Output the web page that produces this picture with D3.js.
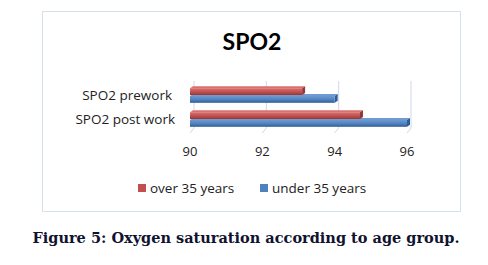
<!DOCTYPE html>
<html lang="en">
<head>
  <meta charset="UTF-8">
  <title>SPO2</title>
  <script src="https://d3js.org/d3.v7.min.js"></script>
  <style>
    body { margin: 0; background: #fff; }
    svg { display: block; }
  </style>
</head>
<body>
  <div id="chart"></div>
  <script>
    // data
    const categories = ["SPO2 prework", "SPO2 post work"];
    const seriesNames = ["over 35 years", "under 35 years"];
    const over35 = [93.1, 94.7];
    const under35 = [94.0, 96.0];
    const tickValues = [90, 92, 94, 96];

    const colors = { "over 35 years": "#c0504d", "under 35 years": "#4f81bd" };
    const light = { "over 35 years": "#d9716e", "under 35 years": "#6f9ad2" };
    const dark = { "over 35 years": "#953735", "under 35 years": "#2f5d93" };

    const W = 488, H = 265;
    const font = "'Open Sans', Lato, sans-serif";
    const svg = d3.select("#chart").append("svg").attr("width", W).attr("height", H);

    // chart area frame
    svg.append("rect")
      .attr("x", 42.5).attr("y", 11.5).attr("width", 418).attr("height", 200)
      .attr("fill", "#fff").attr("stroke", "#d6dfec").attr("stroke-width", 1);

    svg.append("text")
      .attr("x", 252).attr("y", 50)
      .attr("text-anchor", "middle")
      .attr("font-family", "Lato, 'Open Sans', sans-serif")
      .attr("font-weight", "bold").attr("font-size", 23)
      .attr("fill", "#000").text("SPO2");

    const x = d3.scaleLinear().domain([90, 96]).range([190, 407]);
    const y = d3.scaleBand().domain(categories).range([83, 131])
      .paddingInner(0.35).paddingOuter(0.175);
    const ySub = d3.scaleBand().domain(seriesNames).range([0, y.bandwidth()]);

    // gridlines with slanted floor
    const grid = svg.append("g");
    tickValues.forEach(v => {
      grid.append("path")
        .attr("d", `M${x(v) + 4},81 L${x(v) + 4},128 L${x(v)},133`)
        .attr("fill", "none").attr("stroke", "#cdd8ea").attr("stroke-width", 1);
    });

    // tick labels
    svg.append("g").selectAll("text").data(tickValues).enter().append("text")
      .attr("x", d => x(d)).attr("y", 156)
      .attr("text-anchor", "middle")
      .attr("font-family", font).attr("font-size", 13)
      .attr("fill", "#222").text(d => d);

    // category labels
    svg.append("g").selectAll("text").data(categories).enter().append("text")
      .attr("x", (d, i) => i === 0 ? 172 : 175)
      .attr("y", d => y(d) + y.bandwidth() / 2 + 4.5)
      .attr("text-anchor", "end")
      .attr("font-family", font).attr("font-size", 13.5)
      .attr("fill", "#222").text(d => d);

    // gradients for the 3D look
    const defs = svg.append("defs");
    seriesNames.forEach((s, i) => {
      const g = defs.append("linearGradient").attr("id", "grad" + i)
        .attr("x1", 0).attr("y1", 0).attr("x2", 0).attr("y2", 1);
      g.append("stop").attr("offset", "0%").attr("stop-color", light[s]);
      g.append("stop").attr("offset", "55%").attr("stop-color", colors[s]);
      g.append("stop").attr("offset", "100%").attr("stop-color", dark[s]);
    });

    const rows = [];
    categories.forEach((c, i) => {
      rows.push({ cat: c, s: seriesNames[0], v: over35[i], k: 0 });
      rows.push({ cat: c, s: seriesNames[1], v: under35[i], k: 1 });
    });
    // draw lower bars first so the top face of the upper one sits above
    rows.sort((a, b) => (y(b.cat) + ySub(b.s)) - (y(a.cat) + ySub(a.s)));

    const d = 3;
    const bars = svg.append("g");
    rows.forEach(r => {
      const x0 = x(90), x1 = x(r.v);
      const y0 = y(r.cat) + ySub(r.s) + 1, h = ySub.bandwidth() - 1;
      // top face
      bars.append("path")
        .attr("d", `M${x0},${y0} L${x0 + d},${y0 - d + 1} L${x1 + d},${y0 - d + 1} L${x1},${y0} Z`)
        .attr("fill", light[r.s]);
      // side face
      bars.append("path")
        .attr("d", `M${x1},${y0} L${x1 + d},${y0 - d + 1} L${x1 + d},${y0 + h - d + 1} L${x1},${y0 + h} Z`)
        .attr("fill", dark[r.s]);
      // front face
      bars.append("rect")
        .attr("x", x0).attr("y", y0).attr("width", x1 - x0).attr("height", h)
        .attr("fill", `url(#grad${r.k})`);
    });

    // legend
    const legendX = [138, 260];
    const legend = svg.append("g");
    seriesNames.forEach((s, i) => {
      legend.append("rect")
        .attr("x", legendX[i]).attr("y", 184).attr("width", 8).attr("height", 8)
        .attr("fill", colors[s]);
      legend.append("text")
        .attr("x", legendX[i] + 12).attr("y", 192.5)
        .attr("font-family", font).attr("font-size", 13.5)
        .attr("fill", "#222").text(s);
    });

    // caption
    svg.append("text")
      .attr("x", 246).attr("y", 243)
      .attr("text-anchor", "middle")
      .attr("font-family", "'DejaVu Serif', 'Liberation Serif', serif")
      .attr("font-weight", "bold").attr("font-size", 14.5)
      .attr("fill", "#10122e")
      .text("Figure 5: Oxygen saturation according to age group.");
  </script>
</body>
</html>
